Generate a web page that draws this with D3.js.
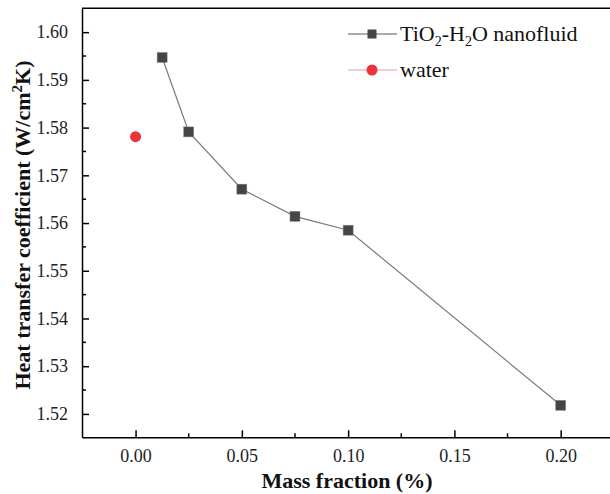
<!DOCTYPE html>
<html><head><meta charset="utf-8">
<script src="https://cdn.jsdelivr.net/npm/d3@7/dist/d3.min.js"></script>
<style>body{margin:0;background:#fff}svg{display:block}
text{font-family:'Liberation Serif','Times New Roman',serif}</style>
</head><body>
<script>
const massFraction = [0.0125, 0.025, 0.05, 0.075, 0.10, 0.20];
const nanofluidHTC = [1.5947, 1.5791, 1.5671, 1.5614, 1.5585, 1.5218];
const waterX = [0.0];
const waterHTC = [1.5781];
const xTicks = [0.00, 0.05, 0.10, 0.15, 0.20];
const yTicks = [1.52, 1.53, 1.54, 1.55, 1.56, 1.57, 1.58, 1.59, 1.60];

const W = 610, H = 494;
const svg = d3.select("body").append("svg").attr("width", W).attr("height", H);
const font = "'Liberation Serif','Times New Roman',serif";

const x = d3.scaleLinear().domain([-0.0252, 0.2232]).range([82, 610]);
const y = d3.scaleLinear().domain([1.5151, 1.6050]).range([437.3, 8.3]);

// top border
svg.append("line").attr("x1", 82).attr("x2", 610).attr("y1", y(1.605)).attr("y2", y(1.605))
  .attr("stroke", "#000").attr("stroke-width", 1.5);

const xMinor = [0.025, 0.075, 0.125, 0.175];
const yMinor = d3.range(1.515, 1.606, 0.005).filter(v => v > 1.5152 && v < 1.6049 && yTicks.every(t => Math.abs(t - v) > 1e-6));

const xAxis = svg.append("g").attr("transform", `translate(0,${y(1.5151)})`)
  .call(d3.axisBottom(x).tickValues(xTicks).tickFormat(d3.format(".2f")).tickSizeInner(-7).tickSizeOuter(0).tickPadding(12));
xAxis.selectAll("line.minor").data(xMinor).enter().append("line").attr("class","minor")
  .attr("x1", d => x(d)).attr("x2", d => x(d)).attr("y1", 0).attr("y2", -4).attr("stroke", "#000").attr("stroke-width", 1.5);

const yAxis = svg.append("g").attr("transform", `translate(${x(-0.0252)},0)`)
  .call(d3.axisLeft(y).tickValues(yTicks).tickFormat(d3.format(".2f")).tickSizeInner(-7).tickSizeOuter(0).tickPadding(14));
yAxis.selectAll("line.minor").data(yMinor).enter().append("line").attr("class","minor")
  .attr("y1", d => y(d)).attr("y2", d => y(d)).attr("x1", 0).attr("x2", 4).attr("stroke", "#000").attr("stroke-width", 1.5);

svg.selectAll(".domain").attr("stroke", "#000").attr("stroke-width", 1.5);
svg.selectAll(".tick line").attr("stroke", "#000").attr("stroke-width", 1.5);
svg.selectAll("g").attr("font-family", null);
svg.selectAll(".tick text").style("font-family", font).style("font-size", "18px").attr("fill", "#222");

// series line
const pts = massFraction.map((d, i) => [d, nanofluidHTC[i]]);
svg.append("path").datum(pts)
  .attr("d", d3.line().x(d => x(d[0])).y(d => y(d[1])))
  .attr("fill", "none").attr("stroke", "#7a7a7a").attr("stroke-width", 1.2);
svg.selectAll("rect.pt").data(pts).enter().append("rect").attr("class", "pt")
  .attr("x", d => x(d[0]) - 5).attr("y", d => y(d[1]) - 5).attr("width", 10).attr("height", 10)
  .attr("fill", "#454545").attr("stroke", "#888").attr("stroke-width", 0.5);

svg.selectAll("circle.w").data(waterX.map((d, i) => [d, waterHTC[i]])).enter().append("circle")
  .attr("cx", d => x(d[0])).attr("cy", d => y(d[1])).attr("r", 5.5).attr("fill", "#e8343a");

// legend
const lg = svg.append("g").style("font-family", font).style("font-size", "22px").attr("fill", "#111");
lg.append("line").attr("x1", 348).attr("x2", 397).attr("y1", 34).attr("y2", 34).attr("stroke", "#555").attr("stroke-width", 1.2);
lg.append("rect").attr("x", 367.5).attr("y", 29.5).attr("width", 9).attr("height", 9).attr("fill", "#454545");
const t1 = lg.append("text").attr("x", 400).attr("y", 41);
t1.append("tspan").text("TiO");
t1.append("tspan").style("font-size", "14px").attr("dy", 5).text("2");
t1.append("tspan").attr("dy", -5).text("-H");
t1.append("tspan").style("font-size", "14px").attr("dy", 5).text("2");
t1.append("tspan").attr("dy", -5).text("O nanofluid");
lg.append("line").attr("x1", 348).attr("x2", 397).attr("y1", 70).attr("y2", 70).attr("stroke", "#e0a0a0").attr("stroke-width", 1.2);
lg.append("circle").attr("cx", 372).attr("cy", 70).attr("r", 5.5).attr("fill", "#e8343a");
lg.append("text").attr("x", 400).attr("y", 77).text("water");

// axis titles
svg.append("text").attr("x", 347).attr("y", 488).attr("text-anchor", "middle")
  .style("font-family", font).style("font-size", "22px").attr("font-weight", "bold").attr("fill", "#111")
  .text("Mass fraction (%)");
const yt = svg.append("text").attr("transform", "translate(30,225) rotate(-90)").attr("text-anchor", "middle")
  .style("font-family", font).style("font-size", "22px").attr("font-weight", "bold").attr("fill", "#111");
yt.append("tspan").text("Heat transfer coefficient (W/cm");
yt.append("tspan").style("font-size", "15px").attr("dy", -8).text("2");
yt.append("tspan").attr("dy", 8).text("K)");
</script>
</body></html>
